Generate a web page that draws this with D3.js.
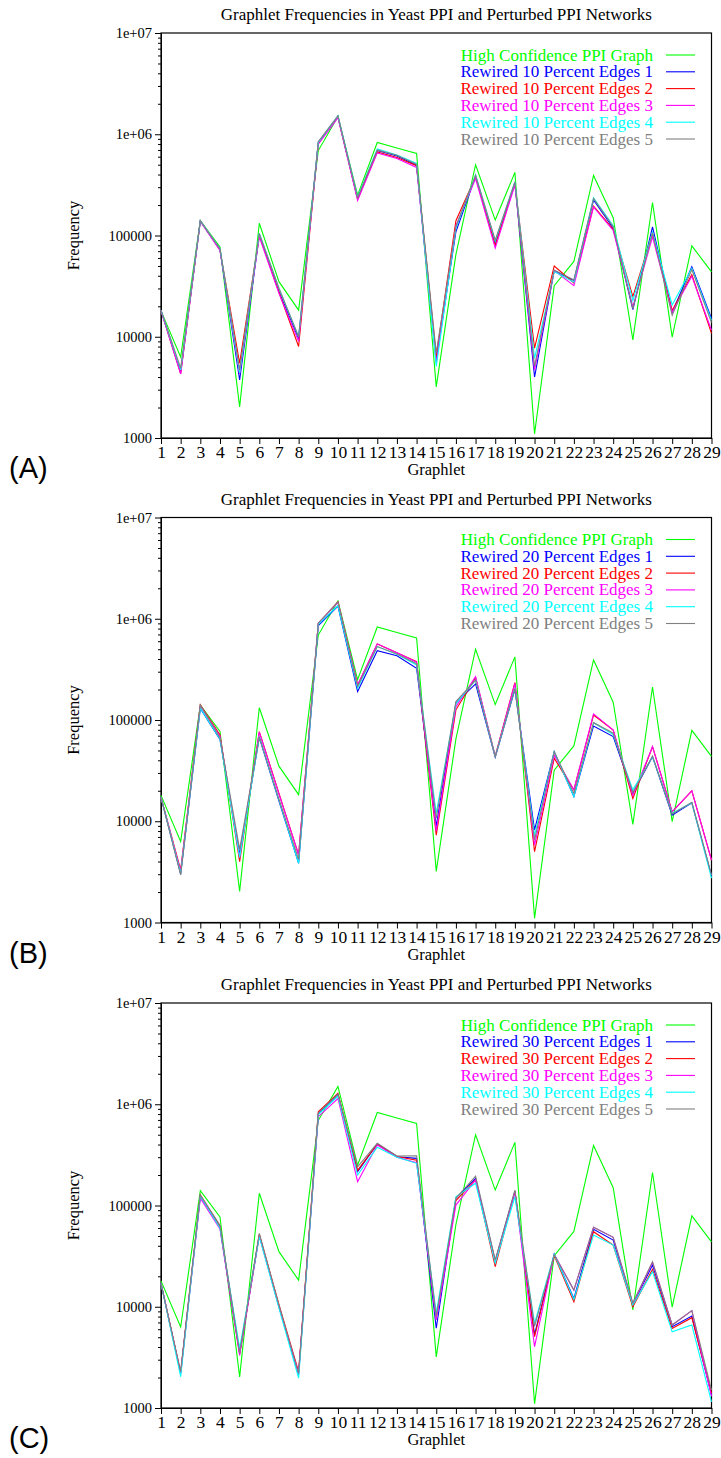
<!DOCTYPE html>
<html>
<head>
<meta charset="utf-8">
<script src="https://cdn.jsdelivr.net/npm/d3@7"></script>
<style>
  body { margin: 0; background: #fff; }
  svg { display: block; }
  text { font-family: "Liberation Serif", "Times New Roman", serif; }
</style>
</head>
<body>
<div id="chart"></div>
<script>
// graphlet ids on the x axis
const graphlets = d3.range(1, 30);

// the original network, same in all three panels
const highConfidence = [18000, 6300, 140000, 77000, 2030, 132000, 35000, 18300, 690000, 1500000,
  250000, 830000, 730000, 645000, 3200, 65000, 500000, 142000, 420000, 1100,
  32000, 55500, 392000, 150000, 9300, 212000, 9900, 79000, 43800];

// 10 percent rewired, runs 1..5
const rewired10 = [
  [18200, 4500, 139000, 73000, 3740, 102000, 28000, 9600, 830000, 1500000, 232000, 690000, 610000, 495000, 5800, 109000, 385000, 84000, 330000, 4000, 45000, 36000, 224000, 118000, 18500, 122000, 17500, 49300, 15200],
  [18200, 4300, 139000, 72000, 5470, 100000, 27500, 8000, 810000, 1480000, 228000, 670000, 590000, 490000, 6400, 140000, 380000, 80000, 325000, 7700, 50000, 34000, 195000, 115000, 24900, 105000, 18200, 41000, 10800],
  [18000, 4300, 138000, 71000, 4300, 97000, 26800, 9000, 800000, 1460000, 222000, 655000, 575000, 470000, 5500, 125000, 365000, 75000, 315000, 4700, 45000, 32000, 192000, 112000, 19700, 97000, 17500, 39500, 11600],
  [18300, 4700, 140000, 74000, 4400, 105000, 30000, 10000, 830000, 1520000, 240000, 715000, 625000, 515000, 5100, 118000, 398000, 88000, 340000, 6100, 44000, 34500, 235000, 125000, 22700, 108000, 20600, 47500, 14500],
  [18300, 4900, 140000, 74000, 4700, 105000, 30100, 10000, 845000, 1520000, 238000, 700000, 620000, 505000, 6900, 122000, 395000, 90000, 338000, 5100, 45500, 36300, 232000, 122000, 19000, 106000, 16300, 46000, 13800]
];

// 20 percent rewired, runs 1..5
const rewired20 = [
  [17200, 3000, 130000, 64400, 4700, 67000, 15800, 3850, 854000, 1330000, 191000, 484000, 431000, 324000, 8900, 148000, 227000, 43000, 200000, 8200, 48600, 17500, 87300, 68500, 19000, 43400, 11500, 15200, 2900],
  [17200, 3300, 141000, 71100, 3980, 76700, 18800, 4650, 900000, 1470000, 222000, 563000, 462000, 377000, 7300, 126000, 262000, 44000, 234000, 5000, 41900, 20400, 112000, 79600, 16800, 54500, 12400, 20000, 4140],
  [17200, 3200, 138000, 69000, 4400, 76000, 18500, 4650, 900000, 1450000, 222000, 565000, 462000, 372000, 8000, 135000, 268000, 43400, 230000, 5800, 45000, 20400, 115000, 79600, 18000, 54500, 12400, 20000, 4140],
  [17200, 3050, 131000, 64800, 4400, 68500, 16200, 3850, 880000, 1350000, 205000, 531000, 445000, 350000, 12000, 145000, 248000, 43400, 205000, 7200, 48600, 17500, 94100, 72000, 20400, 43400, 12000, 15200, 2750],
  [17200, 2950, 140000, 67000, 5280, 68500, 16500, 4200, 905000, 1470000, 215000, 531000, 448000, 360000, 10700, 152000, 248000, 43400, 205000, 6500, 48600, 18800, 94100, 74000, 19200, 44000, 11800, 15400, 2950]
];

// 30 percent rewired, runs 1..5
const rewired30 = [
  [17000, 2200, 124000, 61000, 3500, 51000, 10000, 2150, 800000, 1250000, 216000, 405000, 303000, 292000, 6130, 118000, 185000, 28000, 138000, 5300, 33000, 12100, 58200, 45600, 10500, 25800, 6350, 8100, 1350],
  [17000, 2250, 127000, 62000, 3400, 52000, 10500, 2290, 843000, 1280000, 222000, 405000, 305000, 280000, 7800, 112000, 179000, 24900, 138000, 5060, 32000, 11200, 55100, 40700, 10000, 23400, 6100, 7800, 1400],
  [17000, 2200, 118000, 58600, 3300, 50000, 10000, 2200, 754000, 1140000, 172000, 395000, 300000, 265000, 7400, 101000, 179000, 28000, 135000, 4030, 33000, 14600, 61000, 48500, 10600, 27500, 6600, 9150, 1300],
  [17000, 2040, 124000, 60000, 3890, 49200, 9700, 1970, 790000, 1200000, 200000, 376000, 300000, 261000, 8670, 122000, 166000, 27000, 122000, 6860, 33000, 11800, 51100, 40700, 10400, 22200, 5670, 6600, 1150],
  [17000, 2290, 127000, 64000, 3500, 53100, 10400, 2200, 820000, 1260000, 241000, 411000, 308000, 310000, 8000, 118000, 195000, 29000, 142000, 6400, 32500, 14600, 61000, 48500, 10900, 27900, 6600, 9150, 1500]
];

const percents = [10, 20, 30];
const panelLabels = ["(A)", "(B)", "(C)"];
const yTickValues = [1000, 10000, 100000, 1000000, 10000000];
const yTickLabels = ["1000", "10000", "100000", "1e+06", "1e+07"];

const colors = ["#00ff00", "#0000ff", "#ff0000", "#ff00ff", "#00ffff", "#808080"];

const W = 721, H = 1458;
const left = 161, right = 711.5, plotH = 405;
const tops = [33, 517.5, 1003];

const svg = d3.select("#chart").append("svg")
  .attr("width", W).attr("height", H);

const x = d3.scaleLinear().domain([1, 29]).range([0, right - left]);
const y = d3.scaleLog().domain([1000, 1e7]).range([plotH, 0]);

const minorTicks = [];
for (let d = 1000; d < 1e7; d *= 10)
  for (let k = 2; k <= 9; k++) minorTicks.push(d * k);

const line = d3.line()
  .x((d, i) => x(graphlets[i]))
  .y(d => y(d));

[rewired10, rewired20, rewired30].forEach((runs, p) => {
  const g = svg.append("g").attr("transform", `translate(${left},${tops[p]})`);

  g.append("text")
    .attr("x", x(15)).attr("y", -13)
    .attr("text-anchor", "middle")
    .style("font-size", "17px")
    .text("Graphlet Frequencies in Yeast PPI and Perturbed PPI Networks");

  // y axis, major + minor ticks
  g.append("g").attr("class", "yaxis")
    .call(d3.axisLeft(y).tickValues(yTickValues)
      .tickFormat((d, i) => yTickLabels[i])
      .tickSizeInner(6).tickSizeOuter(0).tickPadding(3));
  g.append("g")
    .call(d3.axisLeft(y).tickValues(minorTicks).tickFormat("")
      .tickSizeInner(3).tickSizeOuter(0))
    .select(".domain").remove();

  g.append("g").attr("class", "xaxis")
    .attr("transform", `translate(0,${plotH})`)
    .call(d3.axisBottom(x).tickValues(graphlets)
      .tickSizeInner(6).tickSizeOuter(0).tickPadding(2));

  g.selectAll(".tick text")
    .style("font-family", '"Liberation Serif", "Times New Roman", serif')
    .attr("fill", "#000");
  g.selectAll(".yaxis .tick text").style("font-size", "14.5px");
  g.selectAll(".xaxis .tick text").style("font-size", "17.5px");
  g.selectAll(".domain, .tick line").attr("stroke", "#000");

  // frame
  g.append("rect")
    .attr("width", right - left).attr("height", plotH)
    .attr("fill", "none").attr("stroke", "#000").attr("stroke-width", 1.2);

  g.append("text")
    .attr("transform", `translate(-82,${plotH / 2}) rotate(-90)`)
    .attr("text-anchor", "middle")
    .style("font-size", "16.5px")
    .text("Frequency");

  g.append("text")
    .attr("x", x(15)).attr("y", plotH + 37)
    .attr("text-anchor", "middle")
    .style("font-size", "16.5px")
    .text("Graphlet");

  const all = [highConfidence, ...runs];
  const names = ["High Confidence PPI Graph",
    ...d3.range(1, 6).map(k => `Rewired ${percents[p]} Percent Edges ${k}`)];

  g.selectAll(".series")
    .data(all)
    .join("path")
    .attr("class", "series")
    .attr("d", line)
    .attr("fill", "none")
    .attr("stroke", (d, i) => colors[i])
    .attr("stroke-width", 1.1);

  // legend
  const leg = g.append("g").attr("transform", `translate(0,22)`);
  names.forEach((n, i) => {
    const yy = i * 16.8;
    leg.append("text")
      .attr("x", 492).attr("y", yy + 5.5)
      .attr("text-anchor", "end")
      .attr("fill", colors[i])
      .style("font-size", "17px")
      .text(n);
    leg.append("line")
      .attr("x1", 505).attr("x2", 534)
      .attr("y1", yy).attr("y2", yy)
      .attr("stroke", colors[i]).attr("stroke-width", 1.1);
  });

  svg.append("text")
    .attr("x", 9).attr("y", tops[p] + plotH + 40)
    .style("font-family", '"Liberation Sans", Arial, sans-serif')
    .style("font-size", "29px")
    .text(panelLabels[p]);
});
</script>
</body>
</html>
